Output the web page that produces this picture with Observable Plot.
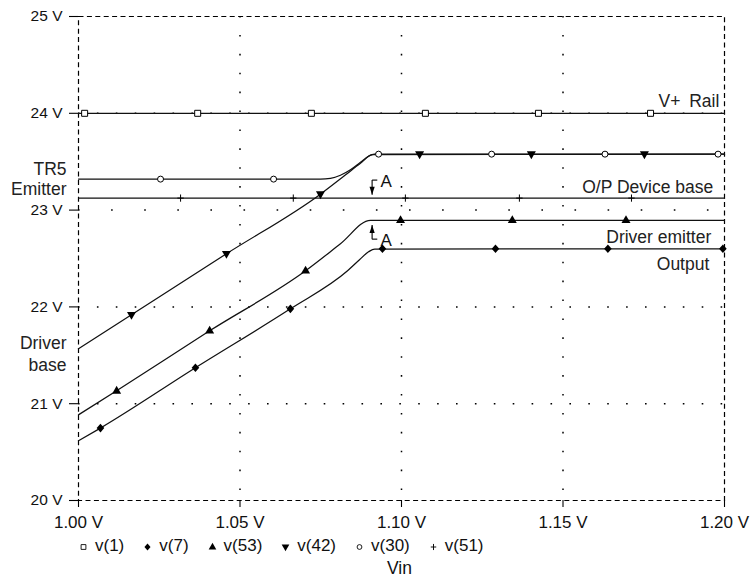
<!DOCTYPE html>
<html>
<head>
<meta charset="utf-8">
<script src="https://cdn.jsdelivr.net/npm/d3@7"></script>
<script src="https://cdn.jsdelivr.net/npm/@observablehq/plot@0.6"></script>
<style>
  html, body { margin: 0; padding: 0; background: #fff; }
  body { font-family: "Liberation Sans", Arial, Helvetica, sans-serif; color: #000; position: relative; width: 753px; height: 577px; overflow: hidden; }
  #legend { position: absolute; left: 79px; top: 536px; height: 20px; display: flex; align-items: center; font-size: 17px; white-space: nowrap; color: #111; }
  #legend .item { display: flex; align-items: center; margin-right: 19px; }
  #legend svg { margin-right: 7px; }
  #xlabel { position: absolute; left: 0; width: 799px; top: 558px; height: 20px; line-height: 20px; text-align: center; font-size: 17.5px; color: #111; }
</style>
</head>
<body>
<div id="chart"></div>
<div id="legend"></div>
<div id="xlabel">Vin</div>
<script>
// ---------- axis ticks ----------
const xTicks = [1.00, 1.05, 1.10, 1.15, 1.20];
const yTicks = [20, 21, 22, 23, 24, 25];
const xGridVals = [1.05, 1.10, 1.15];
const yGridVals = [21, 22, 24];
const yGridWide = [23];

// ---------- series (Vin in V, node voltage in V) ----------
// v(1)  V+ Rail
const v1_x = [1.00, 1.20];
const v1_y = [24.0, 24.0];
// v(30) TR5 emitter
const v30_x = [1.000, 1.0749, 1.0780, 1.0811, 1.0842, 1.0873, 1.0898, 1.0916, 1.200];
const v30_y = [23.32, 23.32, 23.328, 23.36, 23.416, 23.494, 23.556, 23.578, 23.578];
// v(42) Driver base
const v42_x = [1.000, 1.0164, 1.0458, 1.0749, 1.0827, 1.0873, 1.0910, 1.200];
const v42_y = [21.567, 21.918, 22.549, 23.165, 23.365, 23.483, 23.573, 23.578];
// v(51) O/P device base
const v51_x = [1.00, 1.20];
const v51_y = [23.124, 23.124];
// v(53) Driver emitter
const v53_x = [1.000, 1.0118, 1.0406, 1.0703, 1.0811, 1.0904, 1.200];
const v53_y = [20.885, 21.133, 21.753, 22.373, 22.652, 22.895, 22.895];
// v(7) Output
const v7_x = [1.000, 1.0068, 1.0362, 1.0656, 1.0833, 1.0870, 1.0898, 1.0917, 1.200];
const v7_y = [20.617, 20.748, 21.371, 21.98, 22.373, 22.487, 22.569, 22.597, 22.60];

// ---------- marker positions ----------
const m1_x = [1.0019, 1.0369, 1.0721, 1.1074, 1.1424, 1.1771];
const m1_y = [24, 24, 24, 24, 24, 24];
const m7_x = [1.0068, 1.0362, 1.0656, 1.0941, 1.1291, 1.1639, 1.1995];
const m7_y = [20.748, 21.371, 21.98, 22.60, 22.60, 22.60, 22.60];
const m53_x = [1.0118, 1.0406, 1.0703, 1.0997, 1.1343, 1.1695];
const m53_y = [21.133, 21.753, 22.373, 22.895, 22.895, 22.895];
const m42_x = [1.0164, 1.0458, 1.0749, 1.1056, 1.1402, 1.1752];
const m42_y = [21.918, 22.549, 23.165, 23.578, 23.578, 23.578];
const m30_x = [1.0254, 1.0604, 1.0929, 1.1279, 1.1630, 1.1980];
const m30_y = [23.32, 23.32, 23.578, 23.578, 23.578, 23.578];
const m51_x = [1.0316, 1.0665, 1.1012, 1.1365, 1.1712];
const m51_y = [23.124, 23.124, 23.124, 23.124, 23.124];

// ---------- annotation text ----------
const rightLabels = ["V+\u2002Rail", "O/P Device base", "Driver emitter", "Output"];
const rightLabelX = [1.1984, 1.1965, 1.1959, 1.1953];
const rightLabelY = [24.06, 23.18, 22.665, 22.385];
const leftLabels = ["TR5", "Emitter", "Driver", "base"];
const leftLabelX = [0.9963, 0.9963, 0.9963, 0.9963];
const leftLabelY = [23.36, 23.155, 21.567, 21.34];
const aLabels = ["A", "A"];
const aLabelX = [1.0935, 1.0935];
const aLabelY = [23.236, 22.626];
// arrows: shaft start, tip
const arrowX = [1.0909, 1.0909];
const arrowFrom = [23.31, 22.70];
const arrowTip = [23.158, 22.845];
const arrowFlagX = [1.0925, 1.0925];

const legendNames = ["v(1)", "v(7)", "v(53)", "v(42)", "v(30)", "v(51)"];

// ---------- build tables ----------
const zip = (xs, ys) => xs.map((x, i) => ({x, y: ys[i]}));
const series = [
  zip(v1_x, v1_y), zip(v30_x, v30_y), zip(v42_x, v42_y),
  zip(v51_x, v51_y), zip(v53_x, v53_y), zip(v7_x, v7_y)
];

// custom symbols
const sym = {
  square: {draw(c) { c.rect(-3, -3, 6, 6); }},
  diamond: {draw(c) { c.moveTo(0, -4.3); c.lineTo(3.8, 0); c.lineTo(0, 4.3); c.lineTo(-3.8, 0); c.closePath(); }},
  triUp: {draw(c) { c.moveTo(0, -5); c.lineTo(4.5, 2.8); c.lineTo(-4.5, 2.8); c.closePath(); }},
  triDown: {draw(c) { c.moveTo(0, 5); c.lineTo(4.5, -2.8); c.lineTo(-4.5, -2.8); c.closePath(); }},
  circle: {draw(c) { c.moveTo(3, 0); c.arc(0, 0, 3, 0, 2 * Math.PI); c.closePath(); }},
  plus: {draw(c) { c.moveTo(-3.2, 0); c.lineTo(3.2, 0); c.moveTo(0, -3.6); c.lineTo(0, 3.6); }},
  headDown: {draw(c) { c.moveTo(0, 0); c.lineTo(-2.6, -8); c.lineTo(2.6, -8); c.closePath(); }},
  headUp: {draw(c) { c.moveTo(0, 0); c.lineTo(-2.6, 8); c.lineTo(2.6, 8); c.closePath(); }}
};

const gridStyle = {stroke: "black", strokeOpacity: 1, strokeWidth: 1.5};

const lineMarks = series.map(d => Plot.line(d, {x: "x", y: "y", stroke: "#111", strokeWidth: 1.25, curve: "monotone-x"}));

const markerDefs = [
  [m1_x, m1_y, sym.square, "white", "black"],
  [m7_x, m7_y, sym.diamond, "black", "none"],
  [m53_x, m53_y, sym.triUp, "black", "none"],
  [m42_x, m42_y, sym.triDown, "black", "none"],
  [m30_x, m30_y, sym.circle, "white", "black"],
  [m51_x, m51_y, sym.plus, "none", "black"]
];
const markerMarks = markerDefs.map(([xs, ys, s, fill, stroke]) =>
  Plot.dot(zip(xs, ys), {x: "x", y: "y", symbol: s, fill, stroke, strokeWidth: 1}));

const arrows = arrowX.map((x, i) => ({x, y1: arrowFrom[i], y2: arrowTip[i], fx: arrowFlagX[i]}));

const chart = Plot.plot({
  width: 753,
  height: 536,
  marginLeft: 78,
  marginRight: 29,
  marginTop: 16,
  marginBottom: 36,
  x: {domain: [1.0, 1.2], label: null},
  y: {domain: [20, 25], label: null},
  style: {fontFamily: '"Liberation Sans", Arial, Helvetica, sans-serif', fontSize: "15px", color: "#111", background: "white"},
  marks: [
    Plot.gridX(xGridVals, {...gridStyle, strokeDasharray: "1.6,17.3"}),
    Plot.gridY(yGridVals, {...gridStyle, strokeDasharray: "1.6,17.3"}),
    Plot.gridY(yGridWide, {...gridStyle, strokeDasharray: "1.6,31.5"}),
    Plot.frame({stroke: "black", strokeWidth: 1.2, strokeDasharray: "5,3.4"}),
    Plot.axisY(yTicks, {tickSize: 9, tickPadding: 7, tickFormat: d => `${d} V`, fontSize: 15.5, label: null, stroke: "black", strokeWidth: 1.1}),
    Plot.axisX(xTicks, {tickSize: 7, tickPadding: 8, tickFormat: d => `${d.toFixed(2)} V`, fontSize: 17, label: null, stroke: "black", strokeWidth: 1.1}),
    ...lineMarks,
    ...markerMarks,
    // arrows for "A" annotations
    Plot.link(arrows, {x1: "x", x2: "x", y1: "y1", y2: "y2", stroke: "black", strokeWidth: 1.1}),
    Plot.link(arrows, {x1: "x", x2: "fx", y1: "y1", y2: "y1", stroke: "black", strokeWidth: 1.1}),
    Plot.dot([arrows[0]], {x: "x", y: "y2", symbol: sym.headDown, fill: "black", stroke: "none"}),
    Plot.dot([arrows[1]], {x: "x", y: "y2", symbol: sym.headUp, fill: "black", stroke: "none"}),
    Plot.text(aLabels.map((t, i) => ({t, x: aLabelX[i], y: aLabelY[i]})), {x: "x", y: "y", text: "t", textAnchor: "start", lineAnchor: "bottom", fontSize: 17}),
    Plot.text(rightLabels.map((t, i) => ({t, x: rightLabelX[i], y: rightLabelY[i]})), {x: "x", y: "y", text: "t", textAnchor: "end", lineAnchor: "bottom", fontSize: 17.5, fill: "#222"}),
    Plot.text(leftLabels.map((t, i) => ({t, x: leftLabelX[i], y: leftLabelY[i]})), {x: "x", y: "y", text: "t", textAnchor: "end", lineAnchor: "bottom", fontSize: 17.5, fill: "#222"})
  ]
});
document.getElementById("chart").appendChild(chart);

// ---------- legend ----------
const legendSyms = [
  [sym.square, "white", "black", 0.8],
  [sym.diamond, "black", "none", 0.8],
  [sym.triUp, "black", "none", 0.85],
  [sym.triDown, "black", "none", 0.85],
  [sym.circle, "white", "black", 0.8],
  [sym.plus, "none", "black", 0.85]
];
const legend = d3.select("#legend");
legendNames.forEach((name, i) => {
  const [s, fill, stroke, k] = legendSyms[i];
  const item = legend.append("div").attr("class", "item");
  const svg = item.append("svg").attr("width", 9).attr("height", 12);
  svg.append("path")
    .attr("d", d3.symbol(s, 64)())
    .attr("transform", `translate(4.5,7) scale(${k})`)
    .attr("fill", fill).attr("stroke", stroke).attr("stroke-width", 1.1);
  item.append("span").text(name);
});
</script>
</body>
</html>
